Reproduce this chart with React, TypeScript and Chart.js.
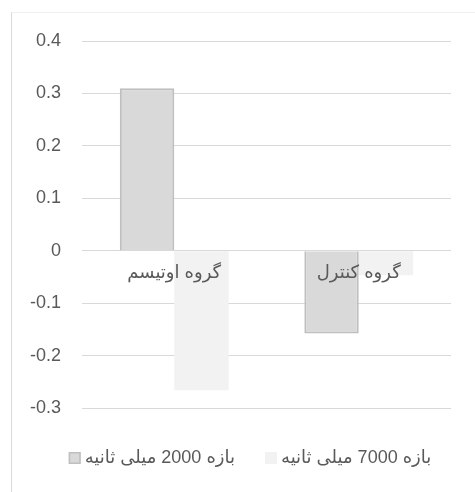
import React, { useEffect, useRef } from "react";
import { Chart, registerables } from "chart.js";

Chart.register(...registerables);

const categories = ["گروه اوتیسم", "گروه کنترل"];
const seriesNames = ["بازه 2000 میلی ثانیه", "بازه 7000 میلی ثانیه"];
const values2000 = [0.31, -0.158];
const values7000 = [-0.266, -0.047];
const yTicks = [-0.3, -0.2, -0.1, 0, 0.1, 0.2, 0.3, 0.4];

const FONT = '"Liberation Sans", Arial, "DejaVu Sans", sans-serif';
const TEXT_COLOR = "#595959";
const fills = ["#d9d9d9", "#f2f2f2"];
const borders = ["#bfbfbf", "#f2f2f2"];
const borderWidths = [2, 0];

const categoryLabelPlugin = {
  id: "categoryLabels",
  afterDatasetsDraw(chart: any) {
    const { ctx, scales } = chart;
    const x = scales.x;
    const y = scales.y;
    ctx.save();
    ctx.font = `18px ${FONT}`;
    ctx.fillStyle = TEXT_COLOR;
    ctx.textAlign = "center";
    ctx.textBaseline = "middle";
    categories.forEach((c, i) => {
      ctx.fillText(c, x.getPixelForValue(i), y.getPixelForValue(0) + 22);
    });
    ctx.restore();
  },
};

const legendPlugin = {
  id: "customLegend",
  afterDraw(chart: any) {
    const { ctx } = chart;
    ctx.save();
    ctx.font = `18px ${FONT}`;
    const box = 12;
    const gapBoxText = 4;
    const gapItems = 30;
    const widths = seriesNames.map((s) => ctx.measureText(s).width);
    const total =
      widths.reduce((a: number, w: number) => a + w + box + gapBoxText, 0) +
      gapItems * (seriesNames.length - 1);
    const centerX = 250;
    const cy = 458;
    let x = centerX - total / 2;
    seriesNames.forEach((s, i) => {
      ctx.fillStyle = fills[i];
      ctx.fillRect(x, cy - box / 2, box, box);
      if (borderWidths[i] > 0) {
        ctx.strokeStyle = borders[i];
        ctx.lineWidth = 1.5;
        ctx.strokeRect(x + 0.75, cy - box / 2 + 0.75, box - 1.5, box - 1.5);
      }
      x += box + gapBoxText;
      ctx.fillStyle = TEXT_COLOR;
      ctx.textAlign = "left";
      ctx.textBaseline = "middle";
      ctx.fillText(s, x, cy);
      x += widths[i] + gapItems;
    });
    ctx.restore();
  },
};

export default function App() {
  const ref = useRef<HTMLCanvasElement>(null);
  useEffect(() => {
    if (!ref.current) return;
    const chart = new Chart(ref.current, {
      type: "bar",
      data: {
        labels: categories,
        datasets: [
          {
            label: seriesNames[0],
            data: values2000,
            backgroundColor: fills[0],
            borderColor: borders[0],
            borderWidth: borderWidths[0],
          },
          {
            label: seriesNames[1],
            data: values7000,
            backgroundColor: fills[1],
            borderColor: borders[1],
            borderWidth: borderWidths[1],
          },
        ],
      },
      options: {
        responsive: false,
        animation: false,
        layout: { padding: { left: 0, right: 24, top: 41, bottom: 84 } },
        plugins: {
          legend: { display: false },
          tooltip: { enabled: false },
        },
        datasets: {
          bar: { categoryPercentage: 0.59, barPercentage: 1 },
        },
        scales: {
          x: { display: false },
          y: {
            min: -0.3,
            max: 0.4,
            afterBuildTicks: (s: any) => {
              s.ticks = yTicks.map((v) => ({ value: v }));
            },
            afterFit: (s: any) => {
              s.width = 82;
            },
            grid: { color: "#d9d9d9", lineWidth: 1, drawTicks: false },
            border: { display: false },
            ticks: {
              padding: 21,
              color: TEXT_COLOR,
              font: { size: 18, family: FONT },
              callback: (v: any) => String(Math.round(Number(v) * 10) / 10),
            },
          },
        },
      },
      plugins: [categoryLabelPlugin, legendPlugin],
    });
    return () => chart.destroy();
  }, []);

  return (
    <div style={{ position: "fixed", left: 0, top: 0, width: 475, height: 492, background: "#fff", overflow: "hidden" }}>
      <div
        style={{
          position: "absolute",
          left: 11,
          top: 12,
          width: 600,
          height: 600,
          borderLeft: "1px solid #d9d9d9",
          borderTop: "1px solid #f0f0f0",
        }}
      />
      <canvas ref={ref} width={475} height={492} style={{ position: "absolute", left: 0, top: 0, width: 475, height: 492 }} />
    </div>
  );
}
